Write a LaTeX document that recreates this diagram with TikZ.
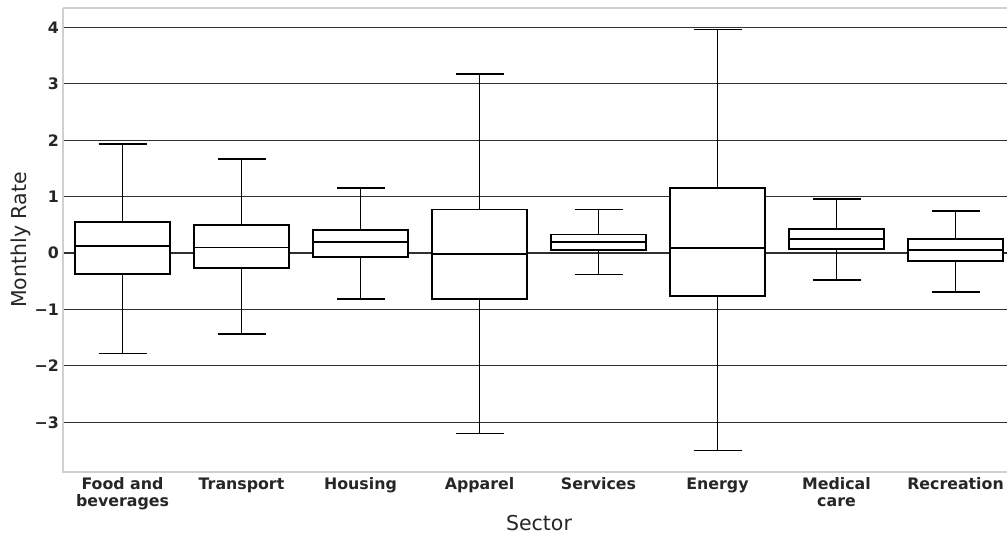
\documentclass[tikz,border=0pt]{standalone}
\usepackage{fontspec}
\setmainfont{DejaVu Sans}
\definecolor{ticktxt}{HTML}{262626}
\definecolor{spinec}{HTML}{D0D0D0}
\definecolor{gridc}{HTML}{303030}
\newcommand\Yv[1]{253-56.43*(#1)}
\tikzset{
  x=1pt,y=-1pt,
  gridline/.style={draw=gridc,line width=1.1pt},
  spineline/.style={draw=spinec,line width=1.3pt},
  boxline/.style={draw=black,fill=white,line width=1.7pt},
  whisk/.style={draw=black,line width=1.7pt},
  ytick/.style={font=\bfseries\fontsize{15.8}{18}\selectfont,text=ticktxt,anchor=east,inner sep=0pt},
  xtick/.style={font=\bfseries\fontsize{15.8}{17}\selectfont,text=ticktxt,anchor=north,align=center,inner sep=0pt},
  axlabel/.style={font=\fontsize{20.5}{24}\selectfont,text=ticktxt,inner sep=0pt,anchor=base},
}
% #1 name, #2 x, #3 whisker low, #4 q1, #5 median, #6 q3, #7 whisker high
\newcommand\bxplt[7]{%
  \draw[whisk] (#2,{\Yv{#7}}) -- (#2,{\Yv{#6}});
  \draw[whisk] (#2,{\Yv{#3}}) -- (#2,{\Yv{#4}});
  \draw[whisk] ({#2-24},{\Yv{#7}}) -- ({#2+24},{\Yv{#7}});
  \draw[whisk] ({#2-24},{\Yv{#3}}) -- ({#2+24},{\Yv{#3}});
  \draw[boxline] ({#2-47.5},{\Yv{#4}}) rectangle ({#2+47.5},{\Yv{#6}});
  \coordinate (#1) at (#2,{\Yv{#5}});
  \draw[whisk] ({#2-47.5},{\Yv{#5}}) -- ({#2+47.5},{\Yv{#5}});
}
\begin{document}
\begin{tikzpicture}
\useasboundingbox (0,0) rectangle (1007,536);
% grid
\foreach \v in {4,3,2,1,0,-1,-2,-3}{
  \draw[gridline] (63,{\Yv{\v}}) -- (1007,{\Yv{\v}});
}
% spines
\draw[spineline] (63,8) -- (1007,8);
\draw[spineline] (63,8) -- (63,472) -- (1007,472);
% y tick labels
\node[ytick] (t4) at (59,{\Yv{4}}) {4};
\node[ytick] (t3) at (59,{\Yv{3}}) {3};
\node[ytick] (t2) at (59,{\Yv{2}}) {2};
\node[ytick] (t1) at (59,{\Yv{1}}) {1};
\node[ytick] (t0) at (59,{\Yv{0}}) {0};
\node[ytick] (tm1) at (59,{\Yv{-1}}) {−1};
\node[ytick] (tm2) at (59,{\Yv{-2}}) {−2};
\node[ytick] (tm3) at (59,{\Yv{-3}}) {−3};
% boxes
\bxplt{food}{122.5}{-1.78}{-0.37}{0.12}{0.55}{1.93}
\bxplt{transport}{241.5}{-1.44}{-0.27}{0.10}{0.50}{1.66}
\bxplt{housing}{360.5}{-0.82}{-0.07}{0.19}{0.41}{1.15}
\bxplt{apparel}{479.5}{-3.20}{-0.82}{-0.02}{0.77}{3.17}
\bxplt{services}{598.5}{-0.38}{0.05}{0.20}{0.33}{0.77}
\bxplt{energy}{717.5}{-3.50}{-0.76}{0.09}{1.15}{3.96}
\bxplt{medical}{836.5}{-0.48}{0.07}{0.25}{0.43}{0.96}
\bxplt{recreation}{955.5}{-0.69}{-0.14}{0.05}{0.25}{0.75}
% x tick labels
\node[xtick] (lfood) at (122.5,477.5) {Food and\\beverages};
\node[xtick] (ltransport) at (241.5,477.5) {Transport};
\node[xtick] (lhousing) at (360.5,477.5) {Housing};
\node[xtick] (lapparel) at (479.5,477.5) {Apparel};
\node[xtick] (lservices) at (598.5,477.5) {Services};
\node[xtick] (lenergy) at (717.5,477.5) {Energy};
\node[xtick] (lmedical) at (836.5,477.5) {Medical\\care};
\node[xtick] (lrecreation) at (955.5,477.5) {Recreation};
% axis labels
\node[axlabel] (xlab) at (539,530) {Sector};
\node[axlabel,rotate=90] (ylab) at (26,240) {Monthly Rate};
\end{tikzpicture}
\end{document}
